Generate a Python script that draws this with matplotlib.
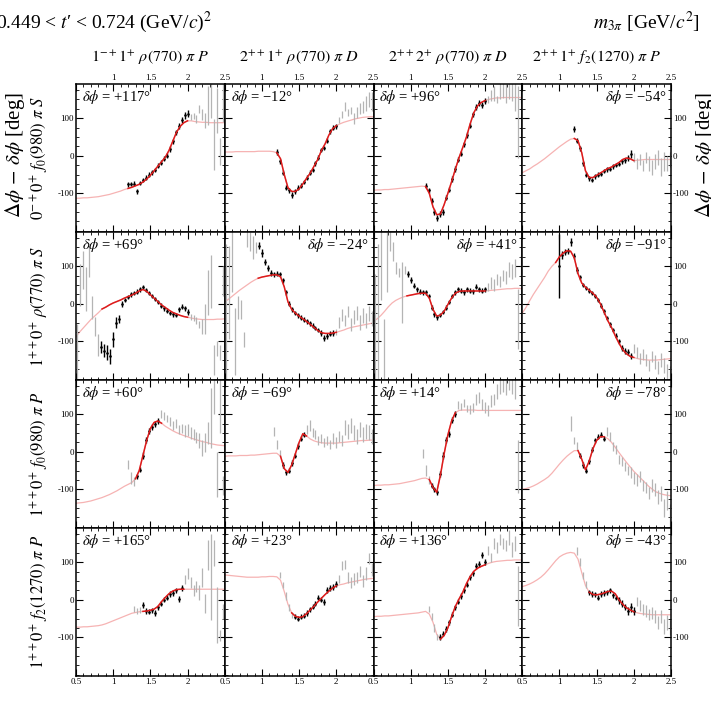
import matplotlib
matplotlib.use('Agg')
import matplotlib.pyplot as plt
from matplotlib.ticker import MultipleLocator, FixedLocator, FuncFormatter
import numpy as np

plt.rcParams['font.family'] = ['Liberation Serif', 'DejaVu Serif']
plt.rcParams['mathtext.fontset'] = 'stix'

# mass grids (GeV/c^2)
curve_m = [0.50, 0.55, 0.60, 0.65, 0.70, 0.75, 0.80, 0.85, 0.90, 0.95, 1.00, 1.05, 1.10, 1.15,
           1.20, 1.25, 1.30, 1.35, 1.40, 1.45, 1.50, 1.55, 1.60, 1.65, 1.70, 1.75, 1.80, 1.85,
           1.90, 1.95, 2.00, 2.05, 2.10, 2.15, 2.20, 2.25, 2.30, 2.35, 2.40, 2.45, 2.50]
bin_m = [0.52, 0.56, 0.60, 0.64, 0.68, 0.72, 0.76, 0.80, 0.84, 0.88, 0.92, 0.96, 1.00, 1.04,
         1.08, 1.12, 1.16, 1.20, 1.24, 1.28, 1.32, 1.36, 1.40, 1.44, 1.48, 1.52, 1.56, 1.60,
         1.64, 1.68, 1.72, 1.76, 1.80, 1.84, 1.88, 1.92, 1.96, 2.00, 2.04, 2.08, 2.12, 2.16,
         2.20, 2.24, 2.28, 2.32, 2.36, 2.40, 2.44, 2.48]

col_titles = [r'$1^{-+}1^{+}\ \rho(770)\ \pi\ P$', r'$2^{++}1^{+}\ \rho(770)\ \pi\ D$',
              r'$2^{++}2^{+}\ \rho(770)\ \pi\ D$', r'$2^{++}1^{+}\ f_2(1270)\ \pi\ P$']
row_titles = [r'$0^{-+}0^{+}\ f_0(980)\ \pi\ S$', r'$1^{++}0^{+}\ \rho(770)\ \pi\ S$',
              r'$1^{++}0^{+}\ f_0(980)\ \pi\ P$', r'$1^{++}0^{+}\ f_2(1270)\ \pi\ P$']
dphi = [[117, -12, 96, -54], [69, -24, 41, -91], [60, -69, 14, -78], [165, 23, 136, -43]]
dphi_side = [['L', 'L', 'L', 'R'], ['L', 'R', 'R', 'R'], ['L', 'L', 'L', 'R'], ['L', 'L', 'L', 'R']]

# ---- row 1 ----
curve_00 = [-113,-113,-112,-112,-111,-110,-109,-107,-105,-103,-100,-97,-94,-90,-87,-84,-80,-76,-70,-62,-52,-40,-28,-16,-4,14,38,62,78,88,93,93,91,90,89,89,88,88,88,88,88]
fit_00 = (1.20, 2.00)
first_00 = 1.20
pts_00 = [-76,-75,-74,-95,-72,-65,-58,-50,-44,-38,-26,-18,-8,0,18,38,62,78,95,108,112, 102,107,98,125,110,95,135,160,30,120,11,150]
err_00 = [6,6,6,7,6,6,6,6,6,6,6,6,6,6,7,7,7,8,8,9,9, 8,8,10,10,15,20,52,60,68,60,35,60]

curve_01 = [10,10,10,11,11,11,11,11,11,12,12,12,12,11,8,-8,-50,-85,-95,-95,-88,-75,-60,-46,-28,-10,14,32,55,72,80,85,89,92,95,98,100,102,103,104,104]
fit_01 = (1.20, 2.00)
first_01 = 1.20
pts_01 = [10,-15,-45,-85,-92,-104,-95,-85,-80,-70,-58,-45,-38,-20,-5,15,20,40,65,75,78, 95,110,130,115,120,100,115,125,130,140,150,145]
err_01 = [7,7,7,7,7,8,7,7,7,6,6,6,6,6,6,6,6,7,7,7,7, 8,10,12,10,10,15,15,15,15,20,20,25]

curve_02 = [-92,-91,-91,-90,-90,-89,-88,-87,-86,-85,-84,-83,-82,-81,-82,-100,-136,-157,-155,-130,-100,-69,-36,-5,22,50,85,115,133,142,147,150,152,154,154,155,155,155,155,155,155]
fit_02 = (1.20, 2.00)
first_02 = 1.20
pts_02 = [-80,-92,-120,-150,-165,-155,-150,-112,-90,-62,-35,-10,5,30,55,80,110,130,140,135,145, 150,160,165,150,170,175,165,180,175,160,90,170]
err_02 = [7,7,7,8,8,8,7,7,7,7,7,7,7,7,7,7,7,8,8,8,8, 10,15,20,10,20,20,25,30,30,40,95,30]

curve_03 = [-45,-40,-35,-28,-22,-15,-8,0,8,16,24,31,38,44,46,40,8,-40,-58,-58,-52,-46,-40,-34,-30,-24,-18,-10,-6,-8,-13,-12,-11,-10,-10,-10,-10,-10,-10,-10,-10]
fit_03 = (1.20, 1.97)
first_03 = 1.20
pts_03 = [70,40,20,-20,-50,-60,-65,-55,-50,-48,-40,-36,-35,-28,-24,-22,-15,-12,-5,5, -5,-20,-10,-25,-5,-20,-30,-15,-5,-30,-15,-20,-10]
err_03 = [8,7,7,7,7,6,6,6,6,6,6,6,6,6,6,6,6,7,8,10, 12,15,15,15,15,20,20,20,20,25,25,20,20]

# ---- row 2 ----
curve_10 = [-88,-75,-64,-53,-42,-33,-24,-14,-9,-3,2,6,10,15,19,23,28,34,38,33,24,15,6,-3,-10,-17,-23,-27,-31,-34,-36,-38,-40,-41,-42,-42,-42,-42,-41,-41,-40]
fit_10 = (0.84, 2.00)
first_10 = 0.52
pts_10 = [-130,50,90,40,110,-10,-60,-110, -115,-125,-130,-140,-95,-50,-40,0,10,18,25,28,32,38,45,36,28,20,12,4,-5,-12,-18,-24,-28,-30,-15,-8,-12,-22, -35,-38,-45,-55,-60,-40,30,60,-150,-120,-130,60]
err_10 = [75,55,50,58,40,30,25,30, 15,18,20,20,20,15,10,8,6,6,6,6,6,6,6,6,6,6,6,6,6,6,6,6,6,6,7,7,7,7, 9,9,10,10,20,40,60,70,40,20,20,40]

curve_11 = [5,12,20,28,36,43,50,57,63,68,71,73,75,77,77,72,45,5,-15,-25,-33,-40,-47,-55,-63,-71,-77,-79,-79,-78,-76,-73,-70,-66,-63,-61,-59,-57,-55,-53,-51]
fit_11 = (0.95, 1.98)
first_11 = 0.52
pts_11 = [-20,30,110,-100,-10,-15,-95,170,165,150,150, 155,135,110,95,82,78,80,78,62,30,0,-15,-25,-31,-37,-42,-47,-52,-58,-64,-70,-78,-92,-86,-80,-78, -75,-50,-30,-45,-20,-55,-35,-25,-50,-30,-45,-25,-40]
err_11 = [180,125,80,90,30,25,20,20,25,30,15, 10,10,8,8,7,7,7,7,7,7,7,6,6,6,6,6,6,6,6,6,6,7,8,7,7,7, 8,15,15,15,15,18,18,18,20,20,20,20,20]

curve_12 = [-47,-40,-31,-20,-8,2,9,14,18,21,23,25,27,28,28,15,-15,-33,-30,-20,-2,15,28,33,34,34,34,34,34,34,34,35,36,37,38,39,40,40,41,41,40]
fit_12 = (0.95, 2.00)
first_12 = 0.52
pts_12 = [-60,-20,100,-120,110,170,140,95,82,30,90, 78,62,48,38,32,30,30,20,-10,-28,-36,-30,-22,-10,5,20,30,38,35,30,38,35,33,45,38,35,38, 45,55,50,65,60,75,70,90,85,95,-40,100]
err_12 = [140,180,90,80,80,30,25,15,12,80,10, 8,8,7,7,6,6,6,6,6,6,6,6,6,6,6,6,6,6,6,6,6,6,6,7,7,7,7, 10,15,15,15,15,15,18,20,20,25,80,30]

curve_13 = [-25,-10,8,25,40,55,70,87,100,110,125,135,141,140,122,80,55,44,36,28,17,0,-22,-45,-63,-85,-105,-122,-133,-140,-143,-146,-148,-149,-150,-150,-150,-149,-148,-147,-146]
fit_13 = (0.98, 1.97)
first_13 = 1.00
pts_13 = [100,130,138,140,165,128,90,70,50,42,35,28,20,10,-5,-20,-38,-55,-70,-85,-100,-118,-125,-128,-138, -120,-130,-145,-135,-150,-165,-140,-155,-170,-150,-165,-180,-190]
err_13 = [85,10,8,8,10,8,7,7,6,6,6,6,6,6,6,6,6,6,6,6,7,7,8,8,8, 12,15,15,15,15,15,15,18,18,18,20,20,25]

# ---- row 3 ----
curve_20 = [-137,-136,-135,-133,-131,-128,-125,-122,-118,-114,-109,-104,-98,-92,-87,-82,-72,-50,-10,30,62,78,82,76,68,62,56,51,47,43,40,36,33,30,27,25,22,20,18,17,16]
fit_20 = (1.30, 1.62)
first_20 = 1.20
pts_20 = [-35,-70,-80, -65,-48,-10,30,55,65,75,82, 100,95,88,80,70,75,60,62,55,58,50,45,38,30,10,25,50,90,150,-60,120,-90]
err_20 = [12,15,12, 7,7,8,8,8,8,8,8, 10,10,10,12,12,12,12,12,15,15,15,15,15,20,20,25,30,80,50,60,70,25]

curve_21 = [-12,-11,-11,-11,-10,-10,-10,-9,-9,-8,-7,-6,-5,-4,-4,-12,-45,-55,-35,-5,25,48,42,34,29,26,24,23,23,23,23,24,25,26,27,28,29,30,30,31,31]
fit_21 = (1.27, 1.57)
first_21 = 1.16
pts_21 = [55,20,-5, -35,-55,-50,-30,-10,15,35,45, 60,70,50,45,30,35,25,30,20,35,25,40,30,65,55,70,50,40,60,45,55,50,40]
err_21 = [12,12,10, 7,7,7,7,7,7,7,7, 12,15,12,12,12,12,12,12,12,15,15,15,15,20,20,20,20,20,20,20,20,20,20]

curve_22 = [-90,-89,-89,-88,-88,-87,-86,-85,-83,-81,-79,-77,-74,-71,-70,-74,-95,-108,-62,-5,45,82,104,110,111,111,111,111,110,110,110,110,110,110,110,110,110,110,110,110,110]
fit_22 = (1.27, 1.61)
first_22 = 1.16
pts_22 = [-5,-50,-75, -90,-100,-108,-60,-10,30,48,85,100, 125,120,130,115,112,118,140,145,125,118,110,135,140,160,175,180,170,185,175,165,-40,150]
err_22 = [12,15,10, 7,7,7,8,8,8,8,8,8, 10,10,10,10,12,12,15,15,15,15,15,15,15,20,20,20,20,20,20,25,70,30]

curve_23 = [-100,-98,-95,-91,-86,-80,-74,-67,-57,-45,-33,-22,-12,-4,3,3,-20,-48,-25,8,30,40,40,35,25,12,-2,-15,-28,-40,-52,-62,-72,-82,-92,-100,-107,-111,-114,-116,-117]
fit_23 = (1.27, 1.61)
first_23 = 1.16
pts_23 = [75,30,15, -10,-35,-50,-25,5,30,40,45,35, 55,40,15,5,-20,-25,-40,-50,-55,-70,-75,-65,-90,-95,-110,-90,-100,-120,-110,-150,-130,-170]
err_23 = [20,10,10, 7,7,7,7,7,7,7,7,7, 12,12,12,12,12,12,12,12,15,15,15,15,15,15,15,18,18,18,20,25,25,30]

# ---- row 4 ----
curve_30 = [-73,-73,-72,-72,-71,-70,-69,-67,-64,-60,-56,-52,-48,-44,-40,-36,-34,-32,-31,-30,-28,-25,-18,-5,6,16,23,27,28,28,28,28,28,28,28,28,28,28,28,28,28]
fit_30 = (1.39, 1.94)
first_30 = 1.28
pts_30 = [-25,-30,-28, -15,-30,-32,-28,-35,-20,-10,0,5,15,18,25,2,30, 55,70,45,25,35,20,60,-10,120,60,125,-40,-95,-30]
err_30 = [8,8,8, 8,7,7,7,7,7,7,7,7,7,7,7,8,8, 12,15,15,15,15,20,25,25,40,115,35,75,15,20]

curve_31 = [66,65,64,63,62,61,60,60,60,60,61,61,62,62,61,52,22,-12,-35,-44,-47,-45,-37,-27,-17,-6,4,14,23,31,37,40,42,45,47,49,51,53,55,56,57]
fit_31 = (1.42, 2.00)
first_31 = 1.24
pts_31 = [65,40,10,-20,-40, -45,-50,-45,-42,-35,-25,-18,-10,5,0,-5,25,30,35,42, 55,90,95,60,45,55,60,75,50,70,110,80]
err_31 = [8,8,10,10,8, 7,7,7,7,7,7,7,7,7,7,8,8,8,8,8, 10,12,12,15,15,15,15,15,15,18,15,18]

curve_32 = [-45,-44,-44,-43,-43,-42,-41,-40,-39,-38,-37,-36,-35,-33,-31,-38,-60,-92,-105,-95,-75,-45,-18,2,20,43,62,76,84,89,93,97,100,102,103,104,105,105,106,106,106]
fit_32 = (1.40, 2.00)
first_32 = 1.24
pts_32 = [-25,-45,-75,-100, -100,-90,-78,-60,-40,-20,-5,10,25,40,60,70,90,95,120,100, 130,112,150,140,160,150,145,165,135,150,10,120]
err_32 = [8,10,10,8, 8,7,7,7,7,7,7,7,7,7,7,7,8,8,8,8, 12,12,15,15,15,15,15,20,20,20,80,25]

curve_33 = [35,38,42,47,53,60,69,80,92,104,114,120,124,126,124,108,72,38,20,14,13,15,18,22,23,16,0,-12,-21,-27,-32,-35,-37,-38,-39,-40,-40,-40,-40,-40,-40]
fit_33 = (1.39, 2.00)
first_33 = 1.24
pts_33 = [130,100,65,40, 20,15,14,5,15,18,20,25,12,5,-2,-10,-20,-30,-20,-30, -5,-15,-25,-30,-40,-35,-45,-60,-45,-70,-60,-75]
err_33 = [10,10,10,10, 7,7,7,7,7,7,7,7,7,7,8,8,8,10,12,10, 12,15,15,15,15,15,18,18,18,20,20,20]

panels = [
    [(curve_00, fit_00, first_00, pts_00, err_00), (curve_01, fit_01, first_01, pts_01, err_01),
     (curve_02, fit_02, first_02, pts_02, err_02), (curve_03, fit_03, first_03, pts_03, err_03)],
    [(curve_10, fit_10, first_10, pts_10, err_10), (curve_11, fit_11, first_11, pts_11, err_11),
     (curve_12, fit_12, first_12, pts_12, err_12), (curve_13, fit_13, first_13, pts_13, err_13)],
    [(curve_20, fit_20, first_20, pts_20, err_20), (curve_21, fit_21, first_21, pts_21, err_21),
     (curve_22, fit_22, first_22, pts_22, err_22), (curve_23, fit_23, first_23, pts_23, err_23)],
    [(curve_30, fit_30, first_30, pts_30, err_30), (curve_31, fit_31, first_31, pts_31, err_31),
     (curve_32, fit_32, first_32, pts_32, err_32), (curve_33, fit_33, first_33, pts_33, err_33)],
]

W, H = 711, 706
fig = plt.figure(figsize=(W / 100, H / 100), dpi=100, facecolor='white')

x0, y0, pw, ph_ = 76, 84, 148.75, 148

def draw_panel(ax, curve, fit, first, pts, err):
    cm = np.array(curve_m)
    cv = np.array(curve, dtype=float)
    k = int(round((first - bin_m[0]) / 0.04))
    mm = np.array(bin_m[k:k + len(pts)])
    pv = np.array(pts, dtype=float)
    ev = np.array(err, dtype=float)
    inside = (mm >= fit[0] - 1e-6) & (mm <= fit[1] + 1e-6)
    ax.plot(cm, cv, color='#f6b3b3', lw=0.9, zorder=1)
    ax.errorbar(mm[~inside], pv[~inside], yerr=ev[~inside], fmt='none',
                ecolor='#b4b4b4', elinewidth=0.9, capsize=0, zorder=2)
    ax.errorbar(mm[inside], pv[inside], yerr=ev[inside], fmt='o', ms=0.9,
                color='black', ecolor='black', elinewidth=1.0, capsize=0, zorder=3)
    sel = (cm >= fit[0] - 0.03) & (cm <= fit[1] + 0.03)
    ax.plot(cm[sel], cv[sel], color='#dd1c1c', lw=1.1, zorder=4)

for r in range(4):
    for c in range(4):
        left = (x0 + c * pw) / W
        bottom = 1 - (y0 + (r + 1) * ph_) / H
        ax = fig.add_axes([left, bottom, pw / W, ph_ / H])
        draw_panel(ax, *panels[r][c])
        ax.set_xlim(0.5, 2.5)
        ax.set_ylim(-203, 191)
        ax.xaxis.set_major_locator(FixedLocator([0.5, 1.0, 1.5, 2.0, 2.5]))
        ax.xaxis.set_minor_locator(MultipleLocator(0.1))
        ax.yaxis.set_major_locator(FixedLocator([-100, 0, 100]))
        ax.yaxis.set_minor_locator(MultipleLocator(25))
        if r == 0:
            ax.xaxis.set_major_formatter(FuncFormatter(lambda v, p: '' if v < 0.75 else '%g' % v))
        elif c < 3:
            ax.xaxis.set_major_formatter(FuncFormatter(lambda v, p: '' if v > 2.25 else '%g' % v))
        else:
            ax.xaxis.set_major_formatter(FuncFormatter(lambda v, p: '%g' % v))
        ax.yaxis.set_major_formatter(FuncFormatter(lambda v, p: '%d' % v))
        ax.tick_params(which='both', direction='in', top=True, right=True,
                       labelsize=6.5, pad=1.5,
                       labelbottom=(r == 3), labeltop=(r == 0),
                       labelleft=(c == 0), labelright=(c == 3))
        ax.tick_params(which='major', length=5, width=0.8)
        ax.tick_params(which='minor', length=2.5, width=0.6)
        for s in ax.spines.values():
            s.set_linewidth(1.1)
        val = dphi[r][c]
        txt = r'$\delta\phi$ = ' + ('+%d°' % val if val > 0 else '\u2212%d°' % (-val))
        if dphi_side[r][c] == 'L':
            ax.text(0.04, 0.97, txt, transform=ax.transAxes, ha='left', va='top', fontsize=10.5)
        else:
            ax.text(0.97, 0.97, txt, transform=ax.transAxes, ha='right', va='top', fontsize=10.5)

for c in range(4):
    fig.text((x0 + (c + 0.5) * pw) / W, 1 - 58 / H, col_titles[c],
             ha='center', va='center', fontsize=11.5)
for r in range(4):
    fig.text(40 / W, 1 - (y0 + (r + 0.5) * ph_) / H, row_titles[r],
             ha='center', va='center', rotation=90, fontsize=12)

fig.text(-4 / W, 1 - 22 / H, '0.449 < $t$\u2032 < 0.724 (GeV/$c$)$^{2}$',
         ha='left', va='center', fontsize=14)
fig.text(700 / W, 1 - 22 / H, r'$m_{3\pi}$ [GeV/$c^{2}$]',
         ha='right', va='center', fontsize=14)
fig.text(15 / W, 1 - 155 / H, r'$\Delta\phi\,-\,\delta\phi$ [deg]',
         ha='center', va='center', rotation=90, fontsize=15)
fig.text(705 / W, 1 - 155 / H, r'$\Delta\phi\,-\,\delta\phi$ [deg]',
         ha='center', va='center', rotation=90, fontsize=15)

fig.savefig('out.png', dpi=100, facecolor='white')
